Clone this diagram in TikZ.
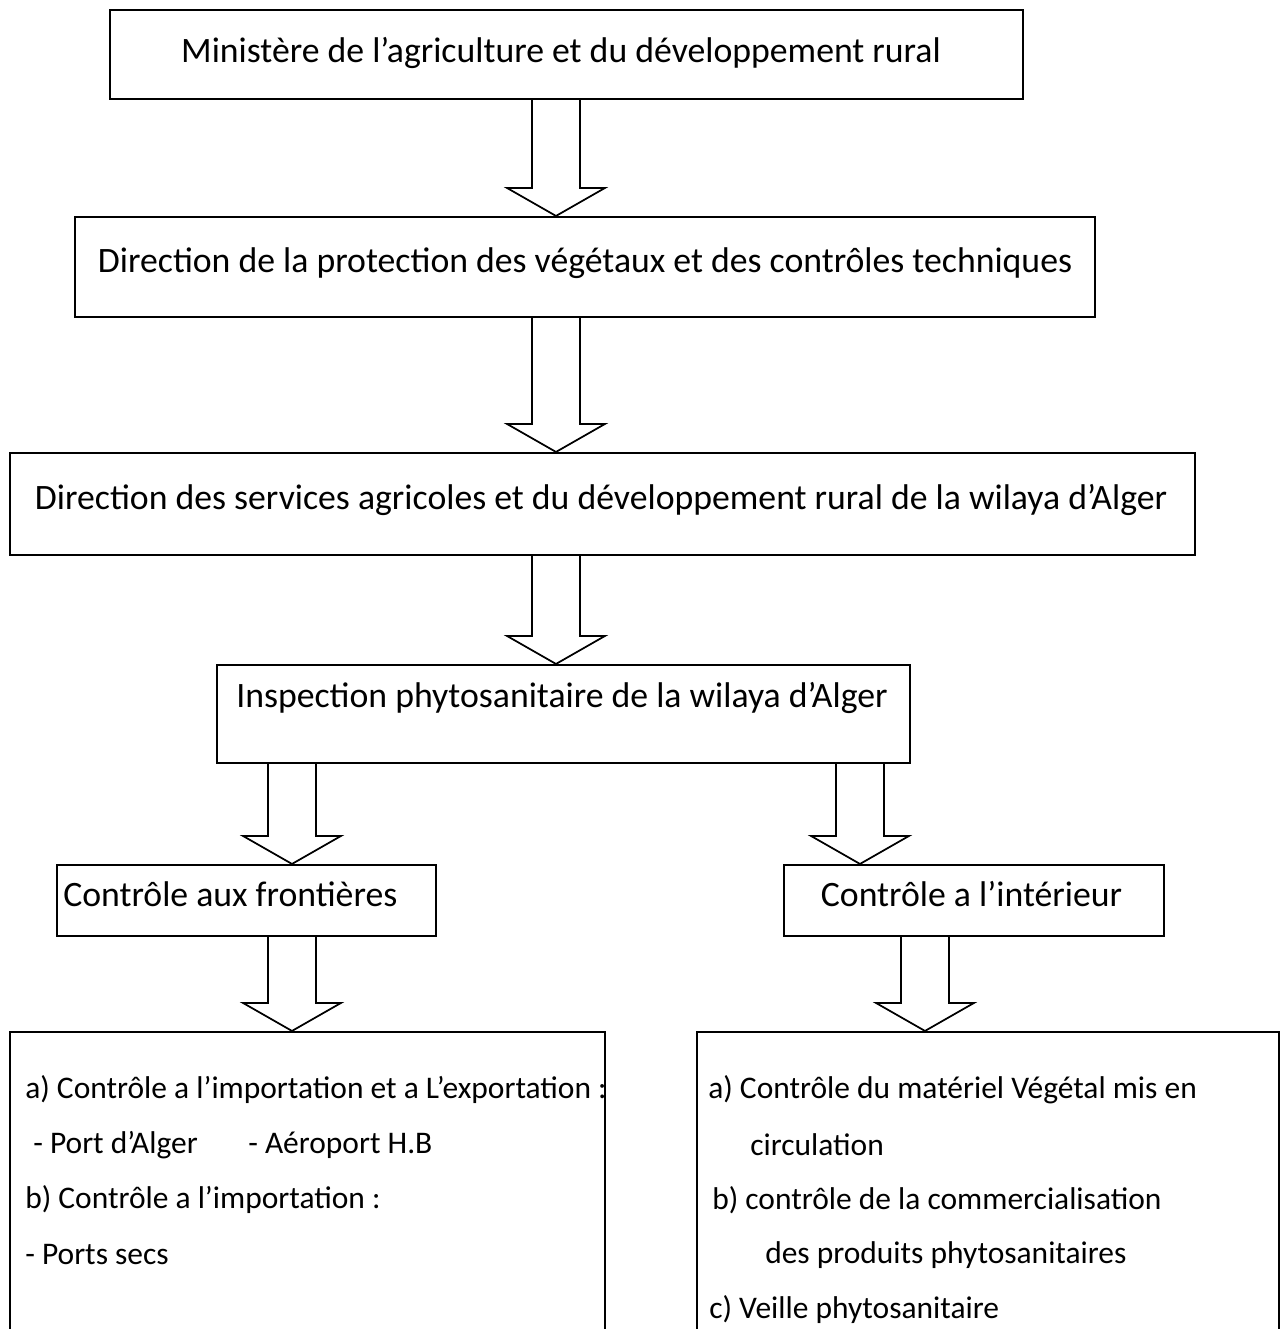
\documentclass[tikz,border=0pt]{standalone}
\usepackage{fontspec}
\setmainfont{Carlito}
\usetikzlibrary{calc}

% hollow block arrow from one box down to the next, at a given x
\newcommand{\hollowarrow}[3]{%
  \draw[arrowline] (#3-24,0 |- #1.south)
    -- ($(#3-24,0 |- #2.north)+(0,-28)$)
    -- ($(#3-49,0 |- #2.north)+(0,-28)$)
    -- (#3,0 |- #2.north)
    -- ($(#3+49,0 |- #2.north)+(0,-28)$)
    -- ($(#3+24,0 |- #2.north)+(0,-28)$)
    -- (#3+24,0 |- #1.south);}

\begin{document}
\begin{tikzpicture}[x=0.75pt, y=-0.75pt,
    box/.style 2 args={draw, line width=1.6pt, inner sep=0pt,
      minimum width=0.75*#1 pt, minimum height=0.75*#2 pt},
    txt/.style={inner sep=0pt, font=\fontsize{26.8}{32}\selectfont},
    item/.style={inner sep=0pt, anchor=west, font=\fontsize{23.6}{29}\selectfont},
    arrowline/.style={line width=1.3pt, line join=miter}]
  \useasboundingbox (0,0) rectangle (1287,1329);

  % boxes
  \node[box={913}{89}] (min) at (566.5,54.5) {};
  \node[box={1020}{100}] (dpv) at (585,267) {};
  \node[box={1185}{102}] (dsa) at (602.5,504) {};
  \node[box={693}{98}] (insp) at (563.5,714) {};
  \node[box={379}{71}] (front) at (246.5,900.5) {};
  \node[box={380}{71}] (inter) at (974,900.5) {};
  \node[box={595}{313}] (listf) at (307.5,1188.5) {};
  \node[box={582}{313}] (listi) at (988,1188.5) {};

  % titles
  \node[txt] (tmin) at (561,53) {Ministère de l’agriculture et du développement rural};
  \node[txt] (tdpv) at (585,263) {Direction de la protection des végétaux et des contrôles techniques};
  \node[txt] (tdsa) at (601,500) {Direction des services agricoles et du développement rural de la wilaya d’Alger};
  \node[txt] (tinsp) at (562,698) {Inspection phytosanitaire de la wilaya d’Alger};
  \node[txt, anchor=west] (tfront) at (63,894) {Contrôle aux frontières};
  \node[txt] (tinter) at (971.5,894) {Contrôle a l’intérieur};

  % lists
  \node[item] (fa) at (25,1090) {a) Contrôle a l’importation et a L’exportation :};
  \node[item] (fport) at (33,1145) {- Port d’Alger};
  \node[item] (faero) at (248,1145) {- Aéroport H.B};
  \node[item] (fb) at (25,1200) {b) Contrôle a l’importation :};
  \node[item] (fsecs) at (25,1255) {- Ports secs};

  \node[item] (ia) at (708,1090) {a) Contrôle du matériel Végétal mis en};
  \node[item] (icirc) at (750,1145) {circulation};
  \node[item] (ib) at (712,1200) {b) contrôle de la commercialisation};
  \node[item] (iprod) at (765,1255) {des produits phytosanitaires};
  \node[item] (ic) at (709,1310) {c) Veille phytosanitaire};

  % arrows
  \hollowarrow{min}{dpv}{556}
  \hollowarrow{dpv}{dsa}{556}
  \hollowarrow{dsa}{insp}{556}
  \hollowarrow{insp}{front}{292}
  \hollowarrow{insp}{inter}{860}
  \hollowarrow{front}{listf}{292}
  \hollowarrow{inter}{listi}{925}
\end{tikzpicture}
\end{document}
